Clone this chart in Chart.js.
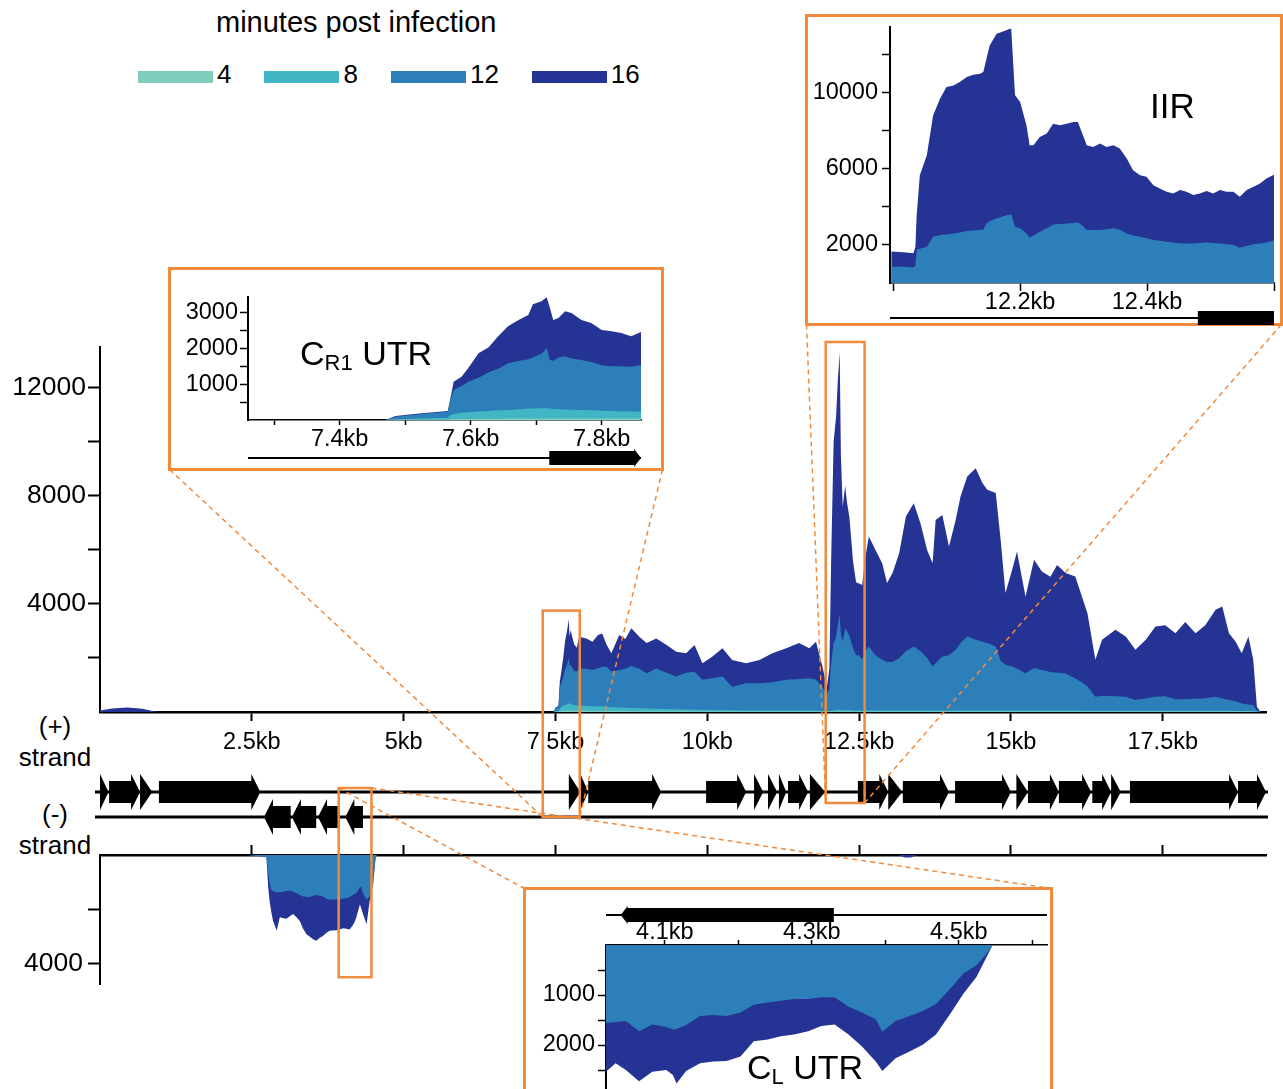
<!DOCTYPE html>
<html lang="en">
  <head>
    <meta charset="utf-8" />
    <title>Strand-specific coverage</title>
    <style>
      body {
        margin: 0;
        width: 1283px;
        height: 1089px;
        position: relative;
        overflow: hidden;
        background: #fff;
        color: #000;
        font-family: "Liberation Sans", Arial, Helvetica, sans-serif;
      }
      canvas { position: absolute; }
      .inset {
        position: absolute;
        box-sizing: border-box;
        border: 3px solid #f08a3c;
        background: #fff;
      }
      .tag { position: absolute; font-size: 34px; line-height: 1; white-space: nowrap; }
      .tag sub { font-size: 22px; vertical-align: -5px; line-height: 0; }
      .strand {
        position: absolute;
        left: 0;
        width: 110px;
        text-align: center;
        font-size: 26px;
        line-height: 31px;
      }
      #legend-title { position: absolute; left: 216px; top: 8px; font-size: 29px; line-height: 1; white-space: nowrap; }
      #legend { position: absolute; left: 138px; top: 61px; display: flex; align-items: center; font-size: 26px; line-height: 1; }
      .key { display: flex; align-items: center; margin-right: 33px; }
      .key i { display: block; width: 75px; height: 12px; margin: 5px 4px 0 0; }
    </style>
  </head>
  <body>
    <div id="legend-title">minutes post infection</div>
    <div id="legend"></div>
    <div class="strand" style="top: 711px">(+)<br />strand</div>
    <div class="strand" style="top: 799px">(-)<br />strand</div>

    <script src="https://cdn.jsdelivr.net/npm/chart.js@4.4.1/dist/chart.umd.min.js"></script>
    <script>
      const FONT = '"Liberation Sans", Arial, Helvetica, sans-serif';
      const ORANGE = "#f08a3c";
      Chart.defaults.font.family = FONT;
      Chart.defaults.color = "#000";

      // time points (minutes post infection), drawn back to front: 16 behind, 4 in front
      const seriesLabels = ["4", "8", "12", "16"];
      const seriesColors = ["#7fcdbb", "#41b6c4", "#2c7fb8", "#253494"];

      // (+) strand coverage over the whole genome (position in kb)
      const plusKb = [
        0.0, 0.2, 0.45, 0.7, 0.9, 1.0, 7.4, 7.47, 7.5, 7.55,
        7.57, 7.6, 7.63, 7.66, 7.69, 7.72, 7.73, 7.75, 7.78, 7.81,
        7.85, 7.89, 8.01, 8.11, 8.2, 8.27, 8.34, 8.42, 8.55, 8.65,
        8.75, 8.88, 9.0, 9.16, 9.33, 9.49, 9.65, 9.79, 9.92, 10.08,
        10.25, 10.41, 10.64, 10.86, 11.07, 11.3, 11.51, 11.68, 11.79, 11.89,
        11.97, 12.01, 12.04, 12.08, 12.12, 12.15, 12.18, 12.2, 12.23, 12.27,
        12.3, 12.34, 12.4, 12.45, 12.5, 12.55, 12.6, 12.66, 12.77, 12.88,
        12.96, 13.05, 13.16, 13.27, 13.4, 13.51, 13.62, 13.71, 13.76, 13.87,
        13.98, 14.09, 14.17, 14.28, 14.42, 14.53, 14.61, 14.75, 14.83, 14.91,
        15.02, 15.1, 15.24, 15.38, 15.51, 15.65, 15.76, 15.9, 16.06, 16.17,
        16.26, 16.39, 16.5, 16.72, 16.89, 17.05, 17.22, 17.38, 17.54, 17.71,
        17.87, 18.04, 18.2, 18.37, 18.48, 18.59, 18.7, 18.8, 18.91, 18.99,
        19.05, 19.11, 19.2,
      ];
      const plus16 = [
        60, 130, 170, 120, 20, 0, 0, 0, 160, 240,
        1100, 1550, 2050, 2650, 3000, 3430, 2800, 3020, 2750, 2500,
        2380, 2780, 2720, 2600, 2850, 2900, 2500, 2170, 2850, 2700,
        3100, 2780, 2550, 2720, 2480, 2230, 2170, 2480, 1800, 2040,
        2360, 1925, 1800, 1925, 2170, 2360, 2550, 2360, 2600, 1740,
        930, 1600, 5660, 10000, 10900, 12300, 13300, 9510, 7600, 8370,
        7760, 7200, 5580, 4800, 4750, 4700, 5700, 6490, 5990, 5500,
        4770, 5140, 5870, 7230, 7720, 6980, 5990, 5500, 7100, 7290,
        6120, 7100, 7970, 8710, 9020, 8470, 8220, 8100, 6380, 4400,
        5260, 5940, 4260, 5630, 5200, 5000, 5440, 5140, 5010, 4260,
        3650, 1930, 2670, 3040, 2790, 2300, 2670, 3160, 3210, 2910,
        3330, 2910, 3210, 3780, 3900, 2910, 2600, 2170, 2790, 1930,
        190, 0, 0,
      ];
      const plus12 = [
        0, 0, 0, 0, 0, 0, 0, 0, 140, 220,
        900, 1100, 1300, 1600, 1750, 2000, 1700, 1760, 1620, 1520,
        1500, 1610, 1600, 1550, 1620, 1670, 1670, 1500, 1550, 1600,
        1700, 1600, 1430, 1610, 1450, 1310, 1450, 1490, 1190, 1250,
        1310, 930, 1060, 1060, 1100, 1190, 1220, 1250, 1190, 930,
        680, 850, 1800, 2550, 2750, 3250, 3600, 2870, 2600, 3100,
        3000, 2820, 2350, 2100, 2100, 1950, 2260, 2420, 2100, 1930,
        1850, 1850, 2000, 2250, 2420, 2250, 2000, 1680, 1800, 2050,
        2100, 2300, 2550, 2790, 2670, 2600, 2550, 2420, 1900, 1750,
        1680, 1600, 1430, 1630, 1550, 1480, 1450, 1420, 1240, 1100,
        950, 560, 600, 580, 560, 440, 500, 560, 580, 470,
        470, 490, 510, 560, 500, 440, 400, 310, 280, 250,
        60, 0, 0,
      ];
      const plus8 = [
        0, 0, 0, 0, 0, 0, 0, 0, 30, 50,
        120, 200, 230, 260, 290, 320, 310, 300, 280, 260,
        240, 230, 220, 210, 200, 200, 190, 180, 170, 160,
        150, 140, 130, 120, 110, 100, 90, 85, 80, 75,
        70, 65, 60, 60, 60, 60, 60, 60, 60, 50,
        40, 40, 50, 60, 70, 80, 80, 70, 60, 70,
        70, 70, 60, 60, 60, 60, 60, 60, 60, 60,
        60, 60, 60, 60, 60, 60, 60, 60, 60, 60,
        60, 60, 60, 60, 60, 60, 60, 60, 60, 60,
        60, 60, 60, 60, 60, 60, 60, 60, 60, 60,
        50, 50, 50, 50, 50, 50, 50, 50, 50, 50,
        50, 50, 50, 50, 50, 50, 40, 40, 40, 30,
        10, 0, 0,
      ];
      const plus4 = [
        0, 0, 0, 0, 0, 0, 0, 0, 10, 15,
        30, 40, 45, 45, 45, 45, 45, 45, 45, 45,
        45, 45, 45, 40, 40, 40, 40, 35, 35, 35,
        30, 30, 30, 30, 25, 25, 25, 20, 20, 20,
        20, 20, 20, 20, 20, 20, 20, 20, 20, 15,
        15, 15, 15, 20, 20, 20, 20, 20, 20, 20,
        20, 20, 20, 20, 20, 20, 20, 20, 20, 20,
        20, 20, 20, 20, 20, 20, 20, 20, 20, 20,
        20, 20, 20, 20, 20, 20, 20, 20, 20, 20,
        20, 20, 20, 20, 20, 20, 20, 20, 20, 20,
        20, 20, 20, 20, 20, 20, 20, 20, 20, 20,
        20, 20, 20, 20, 20, 20, 15, 15, 15, 10,
        5, 0, 0,
      ];

      // (-) strand coverage
      const minusKb = [
        2.45, 2.5, 2.74, 2.77, 2.79, 2.82, 2.85, 2.91, 2.96, 3.02,
        3.07, 3.13, 3.18, 3.24, 3.29, 3.34, 3.4, 3.45, 3.51, 3.56,
        3.62, 3.67, 3.72, 3.78, 3.83, 3.89, 3.95, 4.0, 4.06, 4.11,
        4.16, 4.19, 4.22, 4.28, 4.3, 4.33, 4.39, 4.44, 4.5, 4.54,
        4.56, 13.15, 13.25, 13.35, 13.45,
      ];
      const minus12 = [
        0, 20, 60, 670, 1000, 1280, 1330, 1380, 1360, 1350,
        1330, 1310, 1350, 1410, 1470, 1530, 1540, 1550, 1500, 1470,
        1500, 1530, 1600, 1650, 1640, 1630, 1620, 1610, 1580, 1550,
        1480, 1440, 1410, 1200, 1160, 1400, 1650, 1530, 920, 60,
        0, 0, 0, 0, 0,
      ];
      const minus16 = [
        0, 20, 60, 1200, 1650, 2100, 2430, 2790, 2290, 2330,
        2350, 2250, 2170, 2300, 2430, 2700, 2920, 3000, 3100, 3160,
        3050, 2980, 2880, 2790, 2780, 2770, 2740, 2700, 2720, 2740,
        2600, 2490, 2300, 1820, 1950, 2170, 2550, 1700, 1040, 60,
        0, 0, 90, 90, 0,
      ];

      // close-up of the CR1 UTR, (+) strand
      const cr1Kb = [
        7.26, 7.47, 7.485, 7.525, 7.565, 7.569, 7.574, 7.586, 7.596, 7.612,
        7.627, 7.642, 7.657, 7.673, 7.688, 7.695, 7.708, 7.716, 7.721, 7.726,
        7.734, 7.744, 7.754, 7.769, 7.784, 7.8, 7.815, 7.83, 7.845, 7.86,
      ];
      const cr1_16 = [
        0, 0, 110, 190, 250, 610, 1070, 1210, 1450, 1870,
        2030, 2340, 2620, 2800, 2940, 3240, 3320, 3430, 3130, 2800,
        2850, 3040, 2990, 2800, 2710, 2520, 2480, 2430, 2340, 2460,
      ];
      const cr1_12 = [
        0, 0, 90, 170, 230, 560, 840, 950, 1070, 1180,
        1330, 1430, 1590, 1650, 1700, 1750, 1850, 2010, 1680, 1660,
        1750, 1780, 1720, 1680, 1620, 1530, 1500, 1500, 1490, 1540,
      ];
      const cr1_8 = [
        0, 0, 20, 40, 60, 140, 170, 200, 215, 240,
        255, 270, 280, 300, 320, 325, 330, 330, 320, 310,
        300, 295, 290, 280, 270, 260, 250, 240, 235, 230,
      ];
      const cr1_4 = [
        0, 0, 5, 10, 15, 20, 25, 30, 30, 35,
        35, 35, 40, 40, 40, 40, 40, 40, 40, 40,
        40, 40, 40, 40, 40, 40, 40, 40, 40, 40,
      ];

      // close-up of the IIR peak, (+) strand
      const iirKb = [
        11.997, 12.016, 12.032, 12.035, 12.037, 12.042, 12.053, 12.063, 12.074, 12.084,
        12.095, 12.105, 12.116, 12.126, 12.137, 12.142, 12.147, 12.152, 12.163, 12.173,
        12.184, 12.186, 12.192, 12.2, 12.21, 12.215, 12.221, 12.231, 12.242, 12.252,
        12.263, 12.273, 12.284, 12.291, 12.299, 12.305, 12.315, 12.326, 12.336, 12.347,
        12.357, 12.368, 12.378, 12.389, 12.399, 12.41, 12.42, 12.431, 12.441, 12.452,
        12.462, 12.473, 12.483, 12.494, 12.504, 12.515, 12.525, 12.536, 12.546, 12.557,
        12.567, 12.578, 12.588, 12.601,
      ];
      const iir16 = [
        1650, 1610, 1560, 1900, 3570, 5660, 6710, 8810, 9690, 10300,
        10380, 10560, 10820, 10940, 11000, 11080, 11780, 12480, 13090, 13220,
        13360, 13360, 9860, 9510, 8290, 7240, 7240, 7670, 7850, 8370,
        8290, 8370, 8460, 8460, 7760, 7240, 7150, 7330, 7150, 7240,
        7060, 6540, 5930, 5660, 5580, 5140, 4970, 4790, 4700, 4880,
        4790, 4620, 4700, 4830, 4700, 4880, 4790, 4790, 4530, 4880,
        5050, 5230, 5490, 5700,
      ];
      const iir12 = [
        860, 850, 820, 900, 1730, 1800, 1900, 2430, 2520, 2550,
        2600, 2650, 2730, 2760, 2780, 2800, 3130, 3250, 3390, 3510,
        3600, 3600, 2950, 2870, 2600, 2380, 2500, 2690, 2870, 3080,
        3100, 3130, 3150, 3180, 3000, 2780, 2780, 2780, 2820, 2870,
        2800, 2600, 2500, 2430, 2350, 2260, 2220, 2170, 2130, 2080,
        2080, 2080, 2100, 2130, 2100, 2080, 2050, 1990, 1850, 1950,
        2030, 2080, 2130, 2260,
      ];

      // close-up of the CL UTR, (-) strand
      const clKb = [
        4.02, 4.033, 4.047, 4.065, 4.083, 4.102, 4.111, 4.116, 4.129, 4.148,
        4.166, 4.184, 4.203, 4.221, 4.24, 4.258, 4.276, 4.295, 4.313, 4.331,
        4.35, 4.368, 4.387, 4.396, 4.414, 4.433, 4.451, 4.469, 4.488, 4.506,
        4.524, 4.538, 4.546, 4.62,
      ];
      const cl12 = [
        1554, 1540, 1520, 1723, 1588, 1640, 1689, 1680, 1601, 1419,
        1399, 1419, 1351, 1196, 1149, 1115, 1081, 1081, 1047, 1047,
        1236, 1351, 1486, 1736, 1520, 1419, 1318, 1182, 878, 574,
        405, 169, 0, 0,
      ];
      const cl16 = [
        2534, 2365, 2500, 2723, 2534, 2500, 2600, 2770, 2520, 2365,
        2331, 2318, 2230, 1926, 1892, 1824, 1791, 1723, 1622, 1588,
        1791, 2027, 2331, 2520, 2264, 2128, 1993, 1791, 1385, 980,
        642, 236, 0, 0,
      ];

      // genes (kb) and the strand they sit on
      const geneStart = [
        -0.04, 0.15, 0.66, 0.97, 7.72, 7.91, 8.04, 9.98, 10.77, 11.0,
        11.18, 11.33, 11.69, 12.48, 12.98, 13.22, 14.08, 15.09, 15.28, 15.79,
        16.34, 16.65, 16.96, 18.74, 2.7, 3.16, 3.59, 4.04,
      ];
      const geneEnd = [
        0.14, 0.66, 0.86, 2.64, 7.91, 8.04, 9.24, 10.64, 10.92, 11.15,
        11.3, 11.66, 11.94, 12.98, 13.21, 13.98, 15.0, 15.28, 15.79, 16.32,
        16.65, 16.81, 18.74, 19.22, 3.14, 3.56, 3.95, 4.33,
      ];
      const geneStrand = [
        "+", "+", "+", "+", "+", "+", "+", "+", "+", "+",
        "+", "+", "+", "+", "+", "+", "+", "+", "+", "+",
        "+", "+", "+", "+", "-", "-", "-", "-",
      ];

      // axis ticks, and the ones that carry a label
      const genomeTicks = [2.5, 5, 7.5, 10, 12.5, 15, 17.5];
      const plusYTicks = [2000, 4000, 6000, 8000, 10000, 12000];
      const plusYLabels = [4000, 8000, 12000];
      const minusYTicks = [2000, 4000];
      const minusYLabels = [4000];
      const cr1XTicks = [7.3, 7.4, 7.5, 7.6, 7.7, 7.8];
      const cr1XLabels = [7.4, 7.6, 7.8];
      const cr1YTicks = [500, 1000, 1500, 2000, 2500, 3000];
      const cr1YLabels = [1000, 2000, 3000];
      const iirXTicks = [12.0, 12.2, 12.4, 12.6];
      const iirXLabels = [12.2, 12.4];
      const iirYTicks = [2000, 4000, 6000, 8000, 10000, 12000];
      const iirYLabels = [2000, 6000, 10000];
      const clXTicks = [4.1, 4.2, 4.3, 4.4, 4.5, 4.6];
      const clXLabels = [4.1, 4.3, 4.5];
      const clYTicks = [500, 1000, 1500, 2000, 2500];
      const clYLabels = [1000, 2000];

      // gene track rows sit above the (-) coverage axis
      const TRACK_PLUS = -63;
      const TRACK_MINUS = -38;

      // page placement: canvas [left, top, width, height], plot area [left, top, right, bottom]
      const frames = {
        plus: { canvas: [0, 320, 1283, 450], area: [100, 347, 1266, 712] },
        minus: { canvas: [0, 760, 1283, 250], area: [100, 855, 1266, 984] },
        cr1: { box: [168, 267, 664, 471], canvas: [171, 262, 490, 206], area: [248, 297, 641, 420] },
        iir: { box: [805, 14, 1283, 326], canvas: [808, 0, 472, 326], area: [890, 27, 1274, 283] },
        cl: { box: [523, 887, 1053, 1110], canvas: [526, 890, 524, 230], area: [606, 945, 1047, 1090] },
      };

      // legend
      const legend = document.getElementById("legend");
      seriesLabels.forEach((label, i) => {
        const key = document.createElement("div");
        key.className = "key";
        key.innerHTML = '<i style="background:' + seriesColors[i] + '"></i>' + label;
        legend.appendChild(key);
      });

      const geneTrack = {
        id: "geneTrack",
        afterDraw(chart, args, o) {
          if (!o || !o.tracks) return;
          const { ctx, chartArea: area } = chart;
          const x = chart.scales.x;
          ctx.save();
          ctx.fillStyle = "#000";
          ctx.strokeStyle = "#000";
          ctx.lineWidth = o.lineWidth;
          o.tracks.forEach((track) => {
            const y = (track.edge === "top" ? area.top : area.bottom) + track.offset;
            ctx.beginPath();
            ctx.moveTo(area.left + o.lineStart, y);
            ctx.lineTo(area.right + o.lineEnd, y);
            ctx.stroke();
            geneStart.forEach((start, i) => {
              const end = geneEnd[i];
              if (geneStrand[i] !== track.strand || end <= x.min || start >= x.max) return;
              const forward = track.strand === "+";
              const a = x.getPixelForValue(Math.max(start, x.min));
              const b = x.getPixelForValue(Math.min(end, x.max));
              const tip = x.getPixelForValue(forward ? end : start);
              const tipShown = forward ? tip <= area.right + o.tipSlack : tip >= area.left - o.tipSlack;
              let head = 0;
              if (tipShown) head = b - a <= o.triangleMax ? b - a : Math.min(o.headLength, b - a);
              const bh = o.bodyHalf;
              const hh = o.headHalf;
              ctx.beginPath();
              if (forward) {
                const n = b - head;
                ctx.moveTo(a, y - bh);
                ctx.lineTo(n, y - bh);
                ctx.lineTo(n, y - hh);
                ctx.lineTo(b, y);
                ctx.lineTo(n, y + hh);
                ctx.lineTo(n, y + bh);
                ctx.lineTo(a, y + bh);
              } else {
                const n = a + head;
                ctx.moveTo(b, y - bh);
                ctx.lineTo(n, y - bh);
                ctx.lineTo(n, y - hh);
                ctx.lineTo(a, y);
                ctx.lineTo(n, y + hh);
                ctx.lineTo(n, y + bh);
                ctx.lineTo(b, y + bh);
              }
              ctx.closePath();
              ctx.fill();
            });
          });
          ctx.restore();
        },
      };

      const mainGenes = {
        tracks: [
          { strand: "+", edge: "top", offset: TRACK_PLUS },
          { strand: "-", edge: "top", offset: TRACK_MINUS },
        ],
        lineWidth: 3, lineStart: -5, lineEnd: 2,
        bodyHalf: 11, headHalf: 18, headLength: 9, triangleMax: 16, tipSlack: 35,
      };
      const insetGenes = (strand, edge, offset) => ({
        tracks: [{ strand, edge, offset }],
        lineWidth: 2, lineStart: 0, lineEnd: 0,
        bodyHalf: 7, headHalf: 9, headLength: 7, triangleMax: 0, tipSlack: 35,
      });

      const hasValue = (list, v) => list.some((t) => Math.abs(t - v) < 1e-6);

      function addInsetBox(box) {
        const div = document.createElement("div");
        div.className = "inset";
        div.style.left = box[0] + "px";
        div.style.top = box[1] + "px";
        div.style.width = box[2] - box[0] + "px";
        div.style.height = box[3] - box[1] + "px";
        document.body.appendChild(div);
      }

      function coverageChart(frame, o) {
        const [cl, ct, cw, ch] = frame.canvas;
        const [al, at, ar, ab] = frame.area;
        const canvas = document.createElement("canvas");
        canvas.width = cw;
        canvas.height = ch;
        canvas.style.left = cl + "px";
        canvas.style.top = ct + "px";
        document.body.appendChild(canvas);
        const xTop = o.xPosition === "top";
        const xHeight = xTop ? at - ct : ct + ch - ab;

        const chart = new Chart(canvas, {
          type: "line",
          data: {
            datasets: o.series.map((s) => ({
              label: seriesLabels[s.idx],
              data: o.kb.map((x, i) => ({ x, y: s.values[i] })),
              backgroundColor: seriesColors[s.idx],
              borderColor: "rgba(0,0,0,0)",
              borderWidth: 0,
              fill: "origin",
              pointRadius: 0,
              tension: 0,
            })),
          },
          options: {
            responsive: false,
            animation: false,
            devicePixelRatio: 1,
            events: [],
            layout: {
              padding: {
                left: 0,
                right: cl + cw - ar,
                top: xTop ? 0 : at - ct,
                bottom: xTop ? ct + ch - ab : 0,
              },
            },
            plugins: {
              legend: { display: false },
              tooltip: { enabled: false },
              geneTrack: o.genes || false,
            },
            scales: {
              x: {
                type: "linear",
                position: xTop ? "top" : "bottom",
                min: o.xMin,
                max: o.xMax,
                afterBuildTicks: (s) => { s.ticks = o.xTicks.map((value) => ({ value })); },
                afterFit: (s) => { s.height = xHeight; },
                border: { display: true, color: "#000", width: o.xBorder },
                grid: { drawOnChartArea: false, tickLength: o.xTickLength, tickWidth: o.tickWidth, tickColor: "#000" },
                ticks: {
                  autoSkip: false,
                  maxRotation: 0,
                  padding: o.xPadding,
                  font: { size: o.xFont },
                  callback: (v) => (hasValue(o.xLabels, v) ? +v.toFixed(2) + "kb" : ""),
                },
              },
              y: {
                type: "linear",
                position: "left",
                min: 0,
                max: o.yMax,
                reverse: !!o.reverse,
                afterBuildTicks: (s) => { s.ticks = o.yTicks.map((value) => ({ value })); },
                afterFit: (s) => { s.width = al - cl; },
                border: { display: true, color: "#000", width: o.yBorder },
                grid: { drawOnChartArea: false, tickLength: o.yTickLength, tickWidth: o.tickWidth, tickColor: "#000" },
                ticks: {
                  autoSkip: false,
                  padding: o.yPadding,
                  font: { size: o.yFont },
                  callback: (v) => (hasValue(o.yLabels, v) ? String(v) : ""),
                },
              },
            },
          },
          plugins: [geneTrack],
        });
        chart.frame = frame;
        return chart;
      }

      const allSeries = (v4, v8, v12, v16) => [
        { idx: 0, values: v4 },
        { idx: 1, values: v8 },
        { idx: 2, values: v12 },
        { idx: 3, values: v16 },
      ];
      const lateSeries = (v12, v16) => [
        { idx: 2, values: v12 },
        { idx: 3, values: v16 },
      ];

      const plusChart = coverageChart(frames.plus, {
        kb: plusKb, series: allSeries(plus4, plus8, plus12, plus16),
        xMin: 0, xMax: 19.2, xTicks: genomeTicks, xLabels: genomeTicks,
        yMax: 13500, yTicks: plusYTicks, yLabels: plusYLabels,
        xBorder: 2.5, yBorder: 2, tickWidth: 2,
        xTickLength: 9, xPadding: 7, xFont: 23.5,
        yTickLength: 12, yPadding: 2, yFont: 26.5,
      });

      const minusChart = coverageChart(frames.minus, {
        kb: minusKb, series: lateSeries(minus12, minus16), xPosition: "top", reverse: true,
        xMin: 0, xMax: 19.2, xTicks: genomeTicks, xLabels: [],
        yMax: 4750, yTicks: minusYTicks, yLabels: minusYLabels,
        xBorder: 2.5, yBorder: 2, tickWidth: 2,
        xTickLength: 10, xPadding: 0, xFont: 23.5,
        yTickLength: 12, yPadding: 5, yFont: 26.5,
        genes: mainGenes,
      });

      addInsetBox(frames.cr1.box);
      coverageChart(frames.cr1, {
        kb: cr1Kb, series: allSeries(cr1_4, cr1_8, cr1_12, cr1_16),
        xMin: 7.26, xMax: 7.86, xTicks: cr1XTicks, xLabels: cr1XLabels,
        yMax: 3440, yTicks: cr1YTicks, yLabels: cr1YLabels,
        xBorder: 1.5, yBorder: 2, tickWidth: 1.5,
        xTickLength: 5, xPadding: 0, xFont: 23.5,
        yTickLength: 8, yPadding: 2, yFont: 23.5,
        genes: insetGenes("+", "bottom", 38),
      });

      addInsetBox(frames.iir.box);
      coverageChart(frames.iir, {
        kb: iirKb, series: lateSeries(iir12, iir16),
        xMin: 11.995, xMax: 12.6, xTicks: iirXTicks, xLabels: iirXLabels,
        yMax: 13450, yTicks: iirYTicks, yLabels: iirYLabels,
        xBorder: 1.5, yBorder: 2, tickWidth: 1.5,
        xTickLength: 8, xPadding: -3, xFont: 23.5,
        yTickLength: 8, yPadding: 4, yFont: 23.5,
        genes: insetGenes("+", "bottom", 35),
      });

      addInsetBox(frames.cl.box);
      coverageChart(frames.cl, {
        kb: clKb, series: lateSeries(cl12, cl16), xPosition: "top", reverse: true,
        xMin: 4.02, xMax: 4.62, xTicks: clXTicks, xLabels: clXLabels,
        yMax: 2900, yTicks: clYTicks, yLabels: clYLabels,
        xBorder: 1.5, yBorder: 2, tickWidth: 1.5,
        xTickLength: 5, xPadding: -7, xFont: 23.5,
        yTickLength: 8, yPadding: 3, yFont: 23.5,
        genes: insetGenes("-", "top", -30),
      });

      // region names inside the close-ups
      [
        { html: "C<sub>R1</sub> UTR", left: 300, top: 336 },
        { html: "IIR", left: 1150, top: 88, size: 35 },
        { html: "C<sub>L</sub> UTR", left: 747, top: 1050 },
      ].forEach((t) => {
        const span = document.createElement("span");
        span.className = "tag";
        span.innerHTML = t.html;
        span.style.left = t.left + "px";
        span.style.top = t.top + "px";
        if (t.size) span.style.fontSize = t.size + "px";
        document.body.appendChild(span);
      });

      // zoom boxes on the genome view and the dashed connectors to the close-ups
      const overlay = document.createElement("canvas");
      overlay.width = 1283;
      overlay.height = 1089;
      overlay.style.left = "0px";
      overlay.style.top = "0px";
      document.body.appendChild(overlay);
      const ctx = overlay.getContext("2d");

      const pageX = (chart, v) => chart.frame.canvas[0] + chart.scales.x.getPixelForValue(v);
      const pageY = (chart, v) => chart.frame.canvas[1] + chart.scales.y.getPixelForValue(v);
      const trackTop = minusChart.frame.canvas[1] + minusChart.chartArea.top;
      const plusLineY = trackTop + TRACK_PLUS;
      const minusLineY = trackTop + TRACK_MINUS;
      const plusTop = plusChart.frame.canvas[1] + plusChart.chartArea.top;

      const zooms = [
        { box: frames.cr1.box, from: 7.29, to: 7.9, top: pageY(plusChart, 3750), bottom: minusLineY, side: "bottom" },
        { box: frames.iir.box, from: 11.95, to: 12.59, top: plusTop - 5, bottom: plusLineY + 11, side: "bottom" },
        { box: frames.cl.box, from: 3.93, to: 4.47, top: plusLineY - 4, bottom: pageY(minusChart, 4500), side: "top" },
      ];

      ctx.strokeStyle = ORANGE;
      zooms.forEach((z) => {
        const l = pageX(minusChart, z.from);
        const r = pageX(minusChart, z.to);
        ctx.setLineDash([]);
        ctx.lineWidth = 2.5;
        ctx.strokeRect(l, z.top, r - l, z.bottom - z.top);

        const [bl, bt, br, bb] = z.box;
        ctx.setLineDash([5, 4]);
        ctx.lineWidth = 1.5;
        ctx.beginPath();
        if (z.side === "bottom") {
          ctx.moveTo(bl + 1.5, bb - 1.5);
          ctx.lineTo(l, z.bottom);
          ctx.moveTo(br - 1.5, bb - 1.5);
          ctx.lineTo(r, z.bottom);
        } else {
          ctx.moveTo(l, z.top);
          ctx.lineTo(bl + 1.5, bt + 1.5);
          ctx.moveTo(r, z.top);
          ctx.lineTo(br - 1.5, bt + 1.5);
        }
        ctx.stroke();
      });
    </script>
  </body>
</html>
